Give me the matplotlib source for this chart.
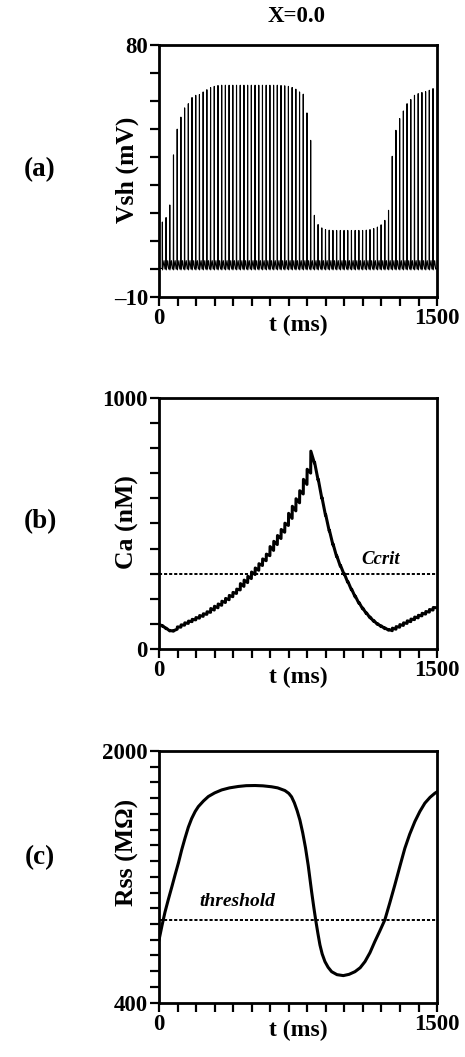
import numpy as np
import matplotlib
matplotlib.use("Agg")
import matplotlib.pyplot as plt
from matplotlib.ticker import FixedLocator, FixedFormatter

plt.rcParams['font.family'] = ['Liberation Serif', 'DejaVu Serif']
plt.rcParams['font.weight'] = 'bold'

# ---------------- data ----------------
title = "X=0.0"
spike_t0 = 18.0       # ms, first spike
spike_period = 20.0   # ms
# peak voltage (mV) of each spike
spike_peaks = [16.8, 18.4, 22.9, 40.8, 50.0, 54.3, 57.6, 59.1, 61.3, 62.1,
               62.4, 63.3, 64.1, 64.9, 65.3, 65.6, 65.7, 65.7, 65.7, 65.7,
               65.7, 65.7, 65.7, 65.7, 65.7, 65.7, 65.7, 65.7, 65.7, 65.7,
               65.7, 65.7, 65.6, 65.5, 65.3, 64.9, 64.3, 63.3, 62.5, 55.8,
               46.0, 19.2, 15.9, 14.7, 14.1, 13.9, 13.8, 13.8, 13.8, 13.8,
               13.8, 13.8, 13.8, 13.8, 13.8, 13.9, 14.1, 14.5, 15.0, 15.8,
               17.4, 21.0, 40.3, 49.6, 53.8, 56.5, 59.1, 60.6, 62.1, 62.7,
               63.1, 63.4, 63.9, 64.5]
v_base = -0.3    # mV resting level between spikes
v_bump = 3.0     # mV small inter-spike bump

# Ca: level just before each spike (nM) and jump produced by each spike
ca_start = 100.0
ca_end = 165.0
ca_trough = [92, 82, 73, 72, 80, 88, 96, 103, 110, 117,
             124, 131, 139, 147, 156, 165, 175, 186, 197, 209,
             222, 236, 250, 265, 281, 297, 314, 333, 352, 372,
             393, 416, 440, 465, 492, 520, 550, 582, 617, 655,
             700, 740, 672, 600, 532, 470, 415, 368, 330, 298,
             266, 236, 208, 183, 161, 142, 125, 111, 99, 90,
             82, 76, 74, 80, 88, 95, 103, 110, 118, 125,
             133, 140, 148, 156]
ca_jump = [2, 2, 2, 2, 9, 9, 9, 9, 9, 9,
           10, 10, 10, 15, 15, 15, 16, 16, 17, 17,
           17, 25, 25, 25, 26, 26, 26, 26, 26, 36,
           36, 36, 36, 36, 48, 48, 48, 48, 58, 60,
           87, 3, 3, 3, 3, 3, 3, 3, 3, 3,
           3, 3, 3, 3, 3, 3, 3, 3, 3, 3,
           3, 3, 10, 10, 10, 10, 10, 10, 10, 10,
           10, 10, 10, 10]
ccrit = 300.0

# Rss (MOhm)
rss_t = [0, 16, 32, 50, 70, 86, 105, 122, 140, 158, 176, 195, 212, 240, 266,
         300, 338, 380, 428, 470, 518, 560, 607, 640, 679, 700, 715, 730,
         745, 760, 775, 790, 805, 823, 835, 845, 857, 868, 880, 895, 912,
         931, 960, 994, 1025, 1057, 1085, 1111, 1138, 1164, 1190, 1218,
         1245, 1272, 1300, 1326, 1352, 1380, 1407, 1434, 1462, 1488, 1500]
rss_v = [799, 890, 975, 1055, 1140, 1210, 1290, 1370, 1445, 1515, 1570,
         1615, 1646, 1682, 1710, 1733, 1752, 1765, 1774, 1779, 1780, 1778,
         1772, 1765, 1748, 1730, 1708, 1670, 1620, 1560, 1480, 1385, 1270,
         1106, 1005, 926, 840, 767, 710, 661, 625, 597, 578, 572, 580, 597,
         622, 661, 718, 788, 853, 926, 1035, 1148, 1270, 1381, 1470, 1551,
         1615, 1668, 1705, 1731, 1740]
threshold = 925.0

# ---------------- build traces from data ----------------
n_sp = len(spike_peaks)
spike_times = spike_t0 + spike_period * np.arange(n_sp)

vt, vv = [0.0], [v_base + 0.5]
for tk, pk in zip(spike_times, spike_peaks):
    vt += [tk - 1.0, tk, tk + 1.0, tk + 9.0, tk + 14.0]
    vv += [v_base + 0.5, pk, v_base, v_bump, v_base + 0.3]
vt.append(1500.0); vv.append(v_base + 0.5)

ct, cv = [0.0], [ca_start]
for tk, tr, jp in zip(spike_times, ca_trough, ca_jump):
    ct += [tk, tk + 1.0]
    cv += [tr, tr + jp]
ct.append(1500.0); cv.append(ca_end)

# ---------------- figure ----------------
FW, FH = 465, 1057
fig = plt.figure(figsize=(FW / 100, FH / 100), dpi=100)
L, W, H = 0.342, 0.598, 0.2382
ax_a = fig.add_axes([L, 0.719, W, H])
ax_b = fig.add_axes([L, 0.3857, W, H])
ax_c = fig.add_axes([L, 0.0514, W, H])

TFS = 16.5


def style(ax, ylo, yhi, ystep, ylabels, ylab, panel, ylab_y, panel_y):
    ax.set_xlim(0, 1500)
    ax.set_ylim(ylo, yhi)
    xt = np.arange(0, 1501, 100)
    ax.xaxis.set_major_locator(FixedLocator(xt))
    ax.xaxis.set_major_formatter(FixedFormatter(['0'] + [''] * (len(xt) - 2) + ['1500']))
    yt = np.arange(ylo, yhi + 0.001, ystep)
    ax.yaxis.set_major_locator(FixedLocator(yt))
    ax.yaxis.set_major_formatter(FixedFormatter([ylabels[0]] + [''] * (len(yt) - 2) + [ylabels[1]]))
    ax.tick_params(direction='out', length=6.5, width=1.6, labelsize=TFS, pad=1.5)
    for lab in ax.get_xticklabels() + ax.get_yticklabels():
        lab.set_fontweight('bold')
    for s in ax.spines.values():
        s.set_linewidth(2.0)
    ax.set_xlabel('t (ms)', fontsize=17, fontweight='bold')
    ax.xaxis.set_label_coords(0.5, -28 / 252)
    ax.xaxis.label.set_va('center')
    fig.text(127 / FW, 1 - ylab_y / FH, ylab, fontsize=18.5, fontweight='bold', rotation=90,
             ha='center', va='center')
    fig.text(40 / FW, 1 - panel_y / FH, panel, fontsize=19.5, fontweight='bold',
             ha='center', va='center')


ax_a.plot(vt, vv, color='black', lw=0.8)
style(ax_a, -10, 80, 10, ['\u201310', '80'], 'Vsh (mV)', '(a)', 170, 170)
fig.text(297 / FW, 1 - 16 / FH, title, fontsize=16.5, fontweight='bold', ha='center', va='center')

ax_b.plot(ct, cv, color='black', lw=2.2)
ax_b.axhline(ccrit, color='black', lw=1.4, ls=(0, (1.6, 1.0)))
ax_b.text(1196, 358, 'Ccrit', fontsize=13.5, fontweight='bold', fontstyle='italic',
          ha='center', va='center')
style(ax_b, 0, 1000, 100, ['0', '1000'], 'Ca (nM)', '(b)', 522, 522)

ax_c.plot(rss_t, rss_v, color='black', lw=2.2)
ax_c.axhline(threshold, color='black', lw=1.4, ls=(0, (1.6, 1.0)))
ax_c.text(424, 1042, 'threshold', fontsize=14, fontweight='bold', fontstyle='italic',
          ha='center', va='center')
style(ax_c, 400, 2000, 100, ['400', '2000'], 'Rss (M\u03a9)', '(c)', 852, 858)

fig.savefig('out.png', dpi=100)
